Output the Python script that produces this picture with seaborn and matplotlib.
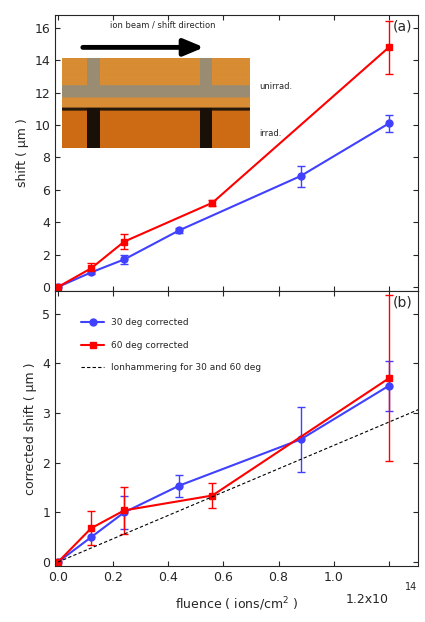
import numpy as np
import matplotlib
matplotlib.use("Agg")
import matplotlib.pyplot as plt
import seaborn as sns

sns.set_style("ticks")
plt.rcParams['font.family'] = ['DejaVu Sans']

x30 = [0, 0.12, 0.24, 0.44, 0.88, 1.2]
shift30 = [0, 0.9, 1.7, 3.5, 6.85, 10.1]
err30 = [0, 0, 0.3, 0.15, 0.65, 0.5]
x60 = [0, 0.12, 0.24, 0.56, 1.2]
shift60 = [0, 1.15, 2.8, 5.2, 14.8]
err60 = [0, 0.35, 0.45, 0.2, 1.65]
corr30 = [0, 0.5, 1.0, 1.54, 2.47, 3.55]
cerr30 = [0, 0, 0.33, 0.22, 0.65, 0.5]
corr60 = [0, 0.68, 1.04, 1.34, 3.7]
cerr60 = [0, 0.34, 0.47, 0.26, 1.67]
ham_x = [0, 1.32]
ham_y = [0, 3.1]

blue = "#4040ff"; red = "#ff0000"
fig = plt.figure(figsize=(4.25, 6.22), dpi=100)
ax1 = fig.add_axes([55/425, 1-291/622, 363/425, 276/622])
ax2 = fig.add_axes([55/425, 1-566/622, 363/425, 275/622])

for ax, y30, e30, y60, e60 in [(ax1, shift30, err30, shift60, err60), (ax2, corr30, cerr30, corr60, cerr60)]:
    for xs, ys, es, c in [(x30, y30, e30, blue), (x60, y60, e60, red)]:
        xe = [a for a, e in zip(xs, es) if e > 0]
        ye = [b for b, e in zip(ys, es) if e > 0]
        ee = [e for e in es if e > 0]
        ax.errorbar(xe, ye, yerr=ee, fmt='none', ecolor=c, elinewidth=1, capsize=3)
    ax.plot(x30, y30, color=blue, marker='o', ms=5, lw=1.5, label="30 deg corrected")
    ax.plot(x60, y60, color=red, marker='s', ms=5, lw=1.5, label="60 deg corrected")
    ax.set_xlim(-0.011, 1.306)
    ax.set_xticks([0, 0.2, 0.4, 0.6, 0.8, 1.0, 1.2])
    ax.tick_params(direction='in', top=True, right=True, labelsize=9)
    for s in ax.spines.values():
        s.set_linewidth(0.8)

ax2.plot(ham_x, ham_y, 'k--', lw=0.8, dashes=(3, 2), label="Ionhammering for 30 and 60 deg")
ax1.set_ylim(-0.25, 16.8)
ax1.set_yticks(range(0, 17, 2))
ax1.tick_params(labelbottom=False)
ax1.set_ylabel("shift ( µm )", fontsize=9)
ax1.text(0.985, 0.985, "(a)", transform=ax1.transAxes, ha='right', va='top', fontsize=10)
ax2.set_ylim(-0.08, 5.46)
ax2.set_yticks(range(0, 6))
ax2.set_xticklabels(["0.0", "0.2", "0.4", "0.6", "0.8", "1.0", ""])
ax2.text(1.2, -0.62, "1.2x10", fontsize=9, ha='right', va='top')
ax2.text(1.28, -0.4, "14", fontsize=7, ha='center', va='top')
ax2.set_xlabel("fluence ( ions/cm$^2$ )", fontsize=9, labelpad=8)
ax2.set_ylabel("corrected shift ( µm )", fontsize=9)
ax2.text(0.985, 0.985, "(b)", transform=ax2.transAxes, ha='right', va='top', fontsize=10)
ax2.legend(loc='upper left', bbox_to_anchor=(0.05, 0.93), frameon=False, fontsize=6.5,
           handlelength=2.5, labelspacing=1.5)

# inset photo (decorative)
axi = fig.add_axes([62/425, 1-148/622, 188/425, 90/622])
h, w = 90, 188
img = np.zeros((h, w, 3))
img[:, :] = [0.85, 0.55, 0.2]
img[28:40] = [0.6, 0.55, 0.45]
img[:40, 25:38] = [0.6, 0.55, 0.45]
img[:40, 138:150] = [0.6, 0.55, 0.45]
img[50:, :] = [0.8, 0.42, 0.08]
img[50:53, :] = [0.15, 0.1, 0.05]
img[50:, 25:38] = [0.1, 0.07, 0.03]
img[50:, 138:150] = [0.1, 0.07, 0.03]
axi.imshow(img, aspect='auto')
axi.axis('off')
ax1.annotate("", xy=(0.54, 14.8), xytext=(0.08, 14.8),
             arrowprops=dict(arrowstyle='-|>,head_length=1.2,head_width=0.5', lw=3.5, color='black'))
ax1.text(0.19, 16.0, "ion beam / shift direction", fontsize=6)
ax1.text(0.73, 12.2, "unirrad.", fontsize=6)
ax1.text(0.73, 9.3, "irrad.", fontsize=6)

fig.savefig("out.png", dpi=100)
